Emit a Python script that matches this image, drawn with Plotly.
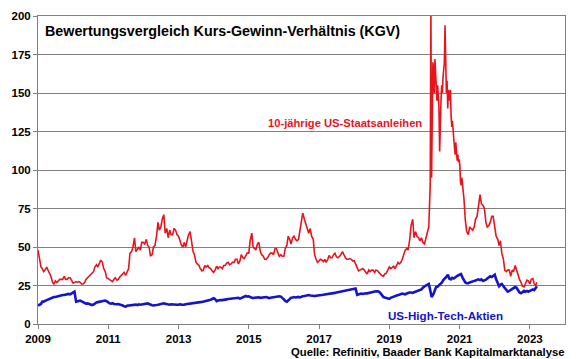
import pandas as pd
import plotly.graph_objects as go

# ---- data ----
# 10-jährige US-Staatsanleihen (KGV = 100 / Rendite), semi-monthly 2009-01 .. 2020-02
red_a = [
    48, 44, 37, 36, 34, 35, 37, 35, 33, 31, 27, 26, 28, 27, 28, 29, 29, 29, 31, 29, 29, 30, 30, 28,          # 2009
    26.5, 27, 27.5, 27, 27.5, 27, 26, 26, 27, 29, 30.5, 31, 32, 33, 34, 37, 38.5, 37, 40, 41.5, 40, 36, 34, 30,  # 2010
    29.5, 29, 28.5, 27.5, 29, 30, 28.5, 29, 30.5, 31.5, 33, 33.5, 31.5, 34, 36, 46, 47, 50, 56, 47, 49, 50, 48, 53,  # 2011
    53, 52, 55, 51, 50, 44, 45, 50, 51, 56, 66, 61, 63, 68, 71, 59, 62, 56, 61, 58, 58, 62, 61, 58,          # 2012
    57, 54, 51, 50, 53, 50, 55, 58, 60, 53, 47, 45, 40, 39, 38, 36, 34.5, 35, 38, 37, 38, 36.5, 36, 34.5,    # 2013
    33.5, 35, 37.5, 36, 37, 37, 36, 38, 38, 39.5, 40, 38.5, 39, 40, 40, 42, 42, 39, 41, 45, 43, 42.5, 44, 46,  # 2014
    46, 54, 59, 50, 49, 48, 52, 53, 47, 45, 44, 42, 42, 43, 45, 46, 46, 45, 49, 49, 46, 44, 45, 44,          # 2015
    44, 49, 51, 57, 55, 52, 56, 57, 55, 54, 55, 60, 68, 72, 68, 65, 63, 59, 62, 57, 55, 45, 42, 40,          # 2016
    41, 42, 41.5, 40.5, 42, 40, 42, 44.5, 43, 43, 45, 46, 43.5, 43, 44, 45, 47, 45, 43, 42, 42, 42.5, 42, 41,  # 2017
    41, 39, 36.5, 34.5, 35, 35.5, 36, 35, 33.5, 32.5, 35, 34, 35, 35, 33.5, 35, 34.5, 33.5, 32.5, 31.5, 31, 32.5, 33, 35,  # 2018
    37, 36, 37, 37.5, 36, 38, 40, 39, 40, 42, 46, 48, 49, 48, 55, 64, 68, 56, 60, 57, 56, 54, 56, 53,        # 2019
    52, 55, 60, 63,                                                                                      # 2020 Jan-Feb
]
# weekly 2020-03-01 .. 2021-02-28
red_covid = [
    90, 205, 95, 130, 170, 165, 150, 172, 160, 155, 145, 155, 150, 140, 112, 140, 145, 155,
    150, 160, 165, 170, 194, 175, 150, 158, 140, 152, 150, 145, 152, 135, 128, 132, 122,
    120, 115, 110, 118, 114, 106, 110, 105, 107, 103, 92, 90, 95, 92, 86, 82, 74, 68,
]
# semi-monthly 2021-03-15 .. 2023-03-15
red_b = [
    60, 58, 63, 62, 61, 63, 68, 70, 76, 84, 78, 77, 75, 66, 63, 64, 66, 70, 70,                            # 2021
    64, 57, 55, 51, 54, 46, 42, 35, 34, 35, 35, 31, 35, 34, 38, 35, 32, 29, 27, 24.5, 24, 26.5, 28.5, 28,    # 2022
    26, 29, 29.5, 26, 25, 27,                                                                            # 2023
]

# US-High-Tech-Aktien, semi-monthly 2009-01 .. 2023-03
blue = [
    12, 12.5, 13, 14.5, 14.5, 15, 15.5, 16, 16.5, 17, 17, 17.5, 17.5, 17.8, 18, 18.2, 18.5, 18.8, 18.8, 19, 19.2, 19.5, 19.2, 19.8,  # 2009
    20.5, 21, 14.5, 15, 15, 15.2, 14.5, 14, 13.5, 13.2, 13.4, 13, 12.5, 12.3, 12.6, 13.5, 14, 14.2, 14.5, 14.3, 14.8, 15, 15.2, 14.8,  # 2010
    14, 13.5, 13.2, 13.5, 13, 12.8, 12.8, 13, 12.8, 12.5, 12, 11.5, 11.3, 11.8, 12, 12.2, 12.3, 12.5, 12.3, 12.6, 12.3, 12.8, 12.5, 12.6,  # 2011
    12.8, 13, 13.2, 13.4, 13, 12.5, 12.2, 12, 12, 12.3, 12.5, 12.8, 12.8, 13, 13.4, 13.2, 13, 12.6, 12.5, 12.8, 12.6, 12.4, 12.3, 12.5,  # 2012
    12.5, 12.8, 12.6, 12.4, 12.5, 12.8, 13, 13.2, 13.3, 13.4, 13.5, 13.6, 13.8, 14, 14, 14.2, 14.3, 14.5, 14.6, 14.8, 15, 15.3, 15.8, 16.2,  # 2013
    16.7, 16.2, 14.8, 15.2, 15.5, 15.6, 15.5, 15.8, 15.9, 16, 16.2, 16.3, 16.4, 16.6, 16.8, 16.7, 16.8, 17, 16.5, 17, 17.5, 17.8, 18.2, 17.8,  # 2014
    18, 17.5, 17, 16.8, 17, 17.2, 17, 17.3, 17, 17.2, 17.4, 17.3, 17.5, 17.2, 16.8, 17, 17.2, 17.5, 17.8, 18, 18.2, 18, 17.8, 17.2,  # 2015
    16, 15, 14.5, 15.2, 16.5, 17, 17.2, 17.5, 17.2, 17.5, 17.6, 17.3, 17.8, 18, 18.2, 18.5, 18.6, 18.8, 18.5, 18.3, 18, 18.2, 18.4, 18.5,  # 2016
    18.3, 18.6, 18.8, 19, 19.2, 19.3, 19.5, 19.3, 19.6, 19.8, 20, 20.2, 20.4, 20.6, 20.8, 21, 21.2, 21.5, 21.6, 21.8, 22, 22.2, 22.4, 22.5,  # 2017
    22.7, 23, 19, 19.2, 19.5, 19.8, 19.5, 19.8, 20, 19.9, 20.2, 20.5, 20.6, 20.8, 21, 21.2, 21.3, 21, 20, 18.5, 17.5, 17.2, 16.8, 16.5,  # 2018
    16.3, 17, 17.5, 18, 18.3, 18.5, 18.8, 19, 19.5, 19.8, 19.5, 19.2, 19.8, 20.2, 20.5, 20.5, 20.2, 20.6, 21, 21.2, 21.5, 22, 22.5, 23.5,  # 2019
    24.5, 25, 25.5, 26, 22, 17.5, 19, 21.5, 24, 24.2, 25, 26, 27, 28.5, 29.5, 30.5, 32, 29.5, 29, 30, 29.5, 30.5, 31, 31.5,  # 2020
    32, 32.5, 30, 28.5, 27, 26.5, 26.5, 27, 27.5, 28, 28, 28.2, 28.5, 29, 28.5, 29, 28, 28.3, 28.8, 29.5, 30.5, 31, 30.5, 31.5,  # 2021
    32, 29, 26.5, 24.6, 25.5, 26, 24.5, 23.5, 22.5, 21, 21.5, 22, 22.5, 23.5, 24, 23.5, 22, 20.5, 20, 20.5, 21.5, 21, 21.5, 21,  # 2022
    21.5, 22, 22.5, 22, 23.5, 24.5,  # 2023
]

title_text = "Bewertungsvergleich Kurs-Gewinn-Verhältnis (KGV)"
red_name = "10-jährige US-Staatsanleihen"
blue_name = "US-High-Tech-Aktien"
source_text = "Quelle: Refinitiv, Baader Bank Kapitalmarktanalyse"
y_ticks = [0, 25, 50, 75, 100, 125, 150, 175, 200]
x_tick_years = [2009, 2011, 2013, 2015, 2017, 2019, 2021, 2023]

# ---- dates ----
d_a = pd.date_range("2009-01-01", periods=len(red_a), freq="SMS")
d_c = pd.date_range("2020-03-01", periods=len(red_covid), freq="W-SUN")
d_b = pd.date_range("2021-03-15", periods=len(red_b), freq="SMS")
red_dates = list(d_a) + list(d_c) + list(d_b)
red_vals = red_a + red_covid + red_b
blue_dates = pd.date_range("2009-01-01", periods=len(blue), freq="SMS")

RED = "#e8141c"
BLUE = "#1414c8"
FONT = "Liberation Sans, Arial, sans-serif"

fig = go.Figure()
fig.add_trace(go.Scatter(x=blue_dates, y=blue, mode="lines", name=blue_name,
                         line=dict(color=BLUE, width=2.6)))
fig.add_trace(go.Scatter(x=red_dates, y=red_vals, mode="lines", name=red_name,
                         line=dict(color=RED, width=1.6)))

fig.update_layout(
    width=580, height=359,
    margin=dict(l=38, r=15, t=16, b=35),
    paper_bgcolor="white", plot_bgcolor="white",
    showlegend=False,
    font=dict(family=FONT, size=11, color="black"),
)
fig.update_xaxes(
    type="date",
    range=["2009-01-01", "2024-01-01"],
    tickvals=[f"{y}-01-01" for y in x_tick_years],
    ticktext=[str(y) for y in x_tick_years],
    showgrid=False, zeroline=False, automargin=False,
    showline=True, mirror=True, linecolor="#808080", linewidth=1,
    ticks="outside", ticklen=4, tickcolor="#808080",
    tickfont=dict(family=FONT, size=11.5, color="black", weight="bold"),
)
fig.update_yaxes(
    range=[0, 200],
    tickvals=y_ticks,
    showgrid=True, gridcolor="#808080", gridwidth=1, zeroline=False, automargin=False,
    showline=True, mirror=True, linecolor="#808080", linewidth=1,
    ticks="outside", ticklen=4, tickcolor="#808080",
    tickfont=dict(family=FONT, size=11.5, color="black", weight="bold"),
)

fig.add_annotation(text=title_text, xref="paper", yref="paper", x=0.0095, y=0.95,
                   xanchor="left", yanchor="middle", showarrow=False,
                   font=dict(family=FONT, size=14.3, color="black", weight="bold"))
fig.add_annotation(text=red_name, xref="paper", yref="paper", x=0.583, y=0.654,
                   xanchor="center", yanchor="middle", showarrow=False,
                   font=dict(family=FONT, size=11.2, color=RED, weight="bold"))
fig.add_annotation(text=blue_name, xref="paper", yref="paper", x=0.773, y=0.029,
                   xanchor="center", yanchor="middle", showarrow=False,
                   font=dict(family=FONT, size=11.6, color=BLUE, weight="bold"))
fig.add_annotation(text=source_text, xref="paper", yref="paper", x=1.004, y=-0.091,
                   xanchor="right", yanchor="middle", showarrow=False,
                   font=dict(family=FONT, size=11.3, color="black", weight="bold"))

fig.write_html("out.html", config={"displayModeBar": False},
               post_script="document.body.style.margin='0';document.body.style.padding='0';")
